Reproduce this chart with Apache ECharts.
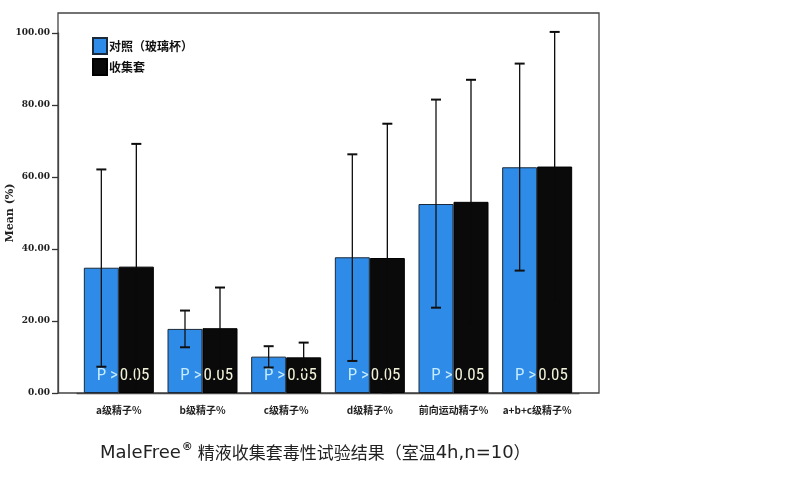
<!DOCTYPE html>
<html><head><meta charset="utf-8">
<script src="https://cdn.jsdelivr.net/npm/echarts@6/dist/echarts.min.js"></script>
<style>html,body{margin:0;padding:0;background:#fff}#c{width:788px;height:478px}</style>
</head><body><div id="c"></div>
<script>
const categories = ['a级精子%', 'b级精子%', 'c级精子%', 'd级精子%', '前向运动精子%', 'a+b+c级精子%'];
const seriesNames = ['对照（玻璃杯）', '收集套'];
const controlMean = [34.8, 17.8, 10.1, 37.7, 52.5, 62.7];
const controlLow  = [7.3, 12.7, 7.1, 8.9, 23.7, 34.0];
const controlHigh = [62.1, 22.9, 13.0, 66.3, 81.5, 91.5];
const sleeveMean  = [35.1, 18.0, 9.9, 37.5, 53.1, 62.9];
const sleeveLow   = [1.0, 6.7, 5.8, 0.2, 19.2, 25.5];
const sleeveHigh  = [69.2, 29.3, 14.0, 74.8, 87.0, 100.3];
const pLeft = 'P >';
const pRight = '0.05';
const yTicks = [0, 20, 40, 60, 80, 100];

const chart = echarts.init(document.getElementById('c'));
const BW = 35;
function errSeries(low, high, off, color) {
  return {
    type: 'custom', xAxisIndex: 1, yAxisIndex: 1, z: 5,
    data: categories.map((c, i) => [i, low[i], high[i]]),
    renderItem: function (params, api) {
      const lo = api.coord([api.value(0), api.value(1)]);
      const hi = api.coord([api.value(0), api.value(2)]);
      const x = lo[0] + off;
      const cap = 5;
      const st = { stroke: color, lineWidth: 1.3 };
      return { type: 'group', children: [
        { type: 'line', shape: { x1: x, y1: lo[1], x2: x, y2: hi[1] }, style: st },
        { type: 'line', shape: { x1: x - cap, y1: hi[1], x2: x + cap, y2: hi[1] }, style: { stroke: color, lineWidth: 2 } },
        { type: 'line', shape: { x1: x - cap, y1: lo[1], x2: x + cap, y2: lo[1] }, style: { stroke: color, lineWidth: 2 } }
      ]};
    }
  };
}
const pFont = '"Liberation Sans Narrow", "Roboto Condensed", "Liberation Sans", sans-serif';
chart.setOption({
  animation: false,
  backgroundColor: '#fff',
  title: {
    left: 95, top: 437,
    text: '{a|MaleFree}{s|®}{b| 精液收集套毒性试验结果（室温}{a|4h,n=10}{b|）}',
    textStyle: { fontWeight: 'normal', rich: {
      a: { fontSize: 18, color: '#222', fontWeight: 'normal', fontFamily: '"DejaVu Sans", "Noto Sans", sans-serif', height: 22 },
      b: { fontSize: 17, color: '#222', fontWeight: 'normal', fontFamily: '"Noto Sans CJK SC", sans-serif', height: 22 },
      s: { fontSize: 11, color: '#222', fontWeight: 'bold', verticalAlign: 'top', padding: [0, 1, 10, 1], fontFamily: '"DejaVu Sans", sans-serif' }
    } }
  },
  legend: {
    orient: 'vertical', left: 87, top: 32, itemWidth: 14, itemHeight: 16, itemGap: 3,
    icon: 'rect',
    data: seriesNames,
    textStyle: { fontSize: 12, color: '#111', fontFamily: '"Noto Sans CJK SC", sans-serif', fontWeight: 'bold', padding: [0, 0, 0, -3] }
  },
  grid: [
    { left: 58, right: 189, top: 13, bottom: 85, show: true, borderColor: '#444', borderWidth: 1.3, backgroundColor: 'transparent', outerBoundsMode: 'none', containLabel: false },
    { left: 77, right: 209, top: 33, bottom: 85, outerBoundsMode: 'none', containLabel: false }
  ],
  xAxis: [
    { gridIndex: 0, type: 'value', show: false, min: 0, max: 1 },
    { gridIndex: 1, type: 'category', data: categories,
      axisLine: { lineStyle: { color: '#444', width: 1.3 } },
      axisTick: { alignWithLabel: true, length: 9, lineStyle: { color: '#333', width: 1.3 } },
      axisLabel: { interval: 0, fontSize: 10, color: '#222', margin: 12, fontFamily: '"Noto Sans CJK SC", sans-serif', fontWeight: 'bold' } }
  ],
  yAxis: [
    { gridIndex: 0, type: 'value', show: false, min: 0, max: 1 },
    { gridIndex: 1, type: 'value', min: 0, max: 100, interval: 20, offset: 19,
      name: 'Mean (%)', nameLocation: 'middle', nameGap: 42, nameMoveOverlap: false,
      nameTextStyle: { fontSize: 11, fontWeight: 'bold', color: '#222', fontFamily: '"DejaVu Serif", serif' },
      axisLine: { show: true, lineStyle: { color: '#444', width: 1.3 } },
      axisTick: { show: true, length: 6, lineStyle: { color: '#333', width: 1.3 } },
      splitLine: { show: false },
      axisLabel: { fontSize: 9, fontWeight: 'bold', color: '#222', margin: 8, fontFamily: '"DejaVu Serif", serif',
        formatter: v => v.toFixed(2) } }
  ],
  series: [
    { name: seriesNames[0], type: 'bar', xAxisIndex: 1, yAxisIndex: 1, data: controlMean, barWidth: BW, barGap: '0%',
      itemStyle: { color: '#2f8be8', borderColor: '#1a2a3a', borderWidth: 1 },
      label: { show: true, formatter: pLeft, position: ['100%', '100%'], align: 'right', verticalAlign: 'bottom',
        offset: [-1, -9], fontSize: 17, color: '#c4ecff', fontFamily: pFont } },
    { name: seriesNames[1], type: 'bar', xAxisIndex: 1, yAxisIndex: 1, data: sleeveMean, barWidth: BW, barGap: '0%',
      itemStyle: { color: '#0a0a0a', borderColor: '#000', borderWidth: 1 },
      label: { show: true, formatter: pRight, position: ['0%', '100%'], align: 'left', verticalAlign: 'bottom',
        offset: [1, -9], fontSize: 17, color: '#f2f2da', fontFamily: pFont } },
    errSeries(controlLow, controlHigh, -BW / 2, '#111'),
    errSeries(sleeveLow, sleeveHigh, BW / 2, '#0a0a0a')
  ]
});
</script></body></html>
